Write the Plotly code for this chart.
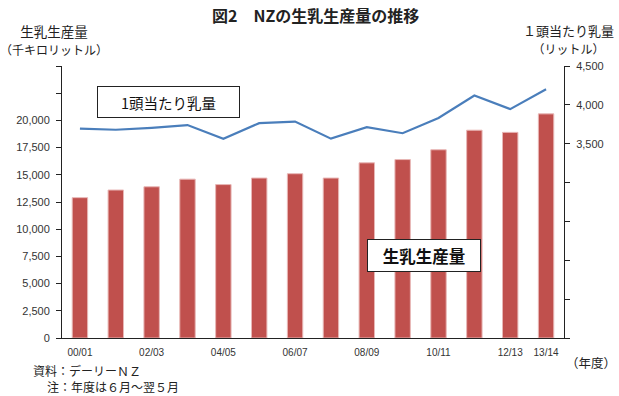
import plotly.graph_objects as go

categories = ["00/01", "01/02", "02/03", "03/04", "04/05", "05/06", "06/07",
              "07/08", "08/09", "09/10", "10/11", "11/12", "12/13", "13/14"]
production = [12900, 13600, 13900, 14600, 14100, 14700, 15100,
              14700, 16100, 16400, 17300, 19100, 18900, 20600]
yield_per_cow = [3695, 3680, 3705, 3740, 3563, 3765, 3785,
                 3565, 3712, 3635, 3832, 4120, 3945, 4200]
x_tick_labels = ["00/01", "02/03", "04/05", "06/07", "08/09", "10/11", "12/13", "13/14"]
left_ticks = list(range(0, 25001, 2500))
left_tick_text = [f"{v:,}" if v <= 20000 else "" for v in left_ticks]
right_ticks = list(range(1000, 4501, 500))
right_tick_text = [f"{v:,}" if v >= 3500 else "" for v in right_ticks]

W, H = 619, 396
L, R, T, B = 62, 55, 66, 58
PW, PH = W - L - R, H - T - B


def px(x):
    return (x - L) / PW


def py(y):
    return (H - B - y) / PH


FONT = "Noto Sans CJK JP"
TICKFONT = "Liberation Sans"

fig = go.Figure()
fig.add_trace(go.Bar(
    x=categories, y=production, yaxis="y",
    marker=dict(color="#C0504D", line=dict(color="#E8B7B6", width=1)),
    width=0.43, showlegend=False,
))
fig.add_trace(go.Scatter(
    x=categories, y=yield_per_cow, yaxis="y2", mode="lines",
    line=dict(color="#4A7EBB", width=2.2), showlegend=False,
))

fig.update_layout(
    width=W, height=H,
    margin=dict(l=L, r=R, t=T, b=B),
    paper_bgcolor="white", plot_bgcolor="white",
    font=dict(family=FONT, color="#222"),
    xaxis=dict(
        type="category", tickmode="array", tickvals=x_tick_labels, ticktext=x_tick_labels,
        showline=True, linecolor="#222", linewidth=1, ticks="",
        tickfont=dict(family=TICKFONT, size=10, color="#333"),
        showgrid=False, zeroline=False, range=[-0.5, 13.5], ticklabelstandoff=5,
    ),
    yaxis=dict(
        range=[0, 25000], tickmode="array", tickvals=left_ticks, ticktext=left_tick_text,
        showline=True, linecolor="#222", linewidth=1, ticks="outside", ticklen=5,
        tickcolor="#222", tickfont=dict(family=TICKFONT, size=11, color="#333"),
        showgrid=False, zeroline=False, ticklabelstandoff=4,
    ),
    yaxis2=dict(
        range=[1000, 4500], overlaying="y", side="right", tickmode="array",
        tickvals=right_ticks, ticktext=right_tick_text,
        showline=True, linecolor="#222", linewidth=1, ticks="outside", ticklen=5,
        tickcolor="#222", tickfont=dict(family=TICKFONT, size=11, color="#333"),
        showgrid=False, zeroline=False, ticklabelstandoff=4,
    ),
)

ann = [
    dict(text="<b>図2　NZの生乳生産量の推移</b>", x=315, y=15, size=16, xanchor="center"),
    dict(text="生乳生産量<br><span style='font-size:12px'>（千キロリットル）</span>",
         x=54, y=40, size=13.5, xanchor="center"),
    dict(text="<span style='font-size:13px'>１頭当たり乳量</span><br>"
              "<span style='font-size:12px'>（リットル）</span>",
         x=568, y=39, size=13.5, xanchor="center"),
    dict(text="（年度）", x=617, y=362, size=12.5, xanchor="right"),
    dict(text="資料：デーリーＮＺ", x=32, y=370, size=12, xanchor="left"),
    dict(text="注：年度は６月～翌５月", x=46, y=386, size=12, xanchor="left"),
]
for a in ann:
    fig.add_annotation(
        text=a["text"], xref="paper", yref="paper", x=px(a["x"]), y=py(a["y"]),
        xanchor=a["xanchor"], yanchor="middle", align="center", showarrow=False,
        font=dict(family=FONT, size=a["size"], color="#222"), borderpad=0,
    )

fig.add_annotation(
    text="1頭当たり乳量", xref="paper", yref="paper", x=px(168.5), y=py(102),
    xanchor="center", yanchor="middle", showarrow=False, width=141, height=30,
    bordercolor="#222", borderwidth=1, borderpad=0, bgcolor="white",
    font=dict(family=FONT, size=14.5, color="#111"),
)
fig.add_annotation(
    text="<b>生乳生産量</b>", xref="paper", yref="paper", x=px(424), y=py(255),
    xanchor="center", yanchor="middle", showarrow=False, width=112, height=31,
    bordercolor="#222", borderwidth=1, borderpad=0, bgcolor="white",
    font=dict(family=FONT, size=16.5, color="#111"),
)

fig.write_html(
    "out.html",
    config={"displayModeBar": False},
    post_script="document.body.style.margin='0';document.body.style.overflow='hidden';",
)
